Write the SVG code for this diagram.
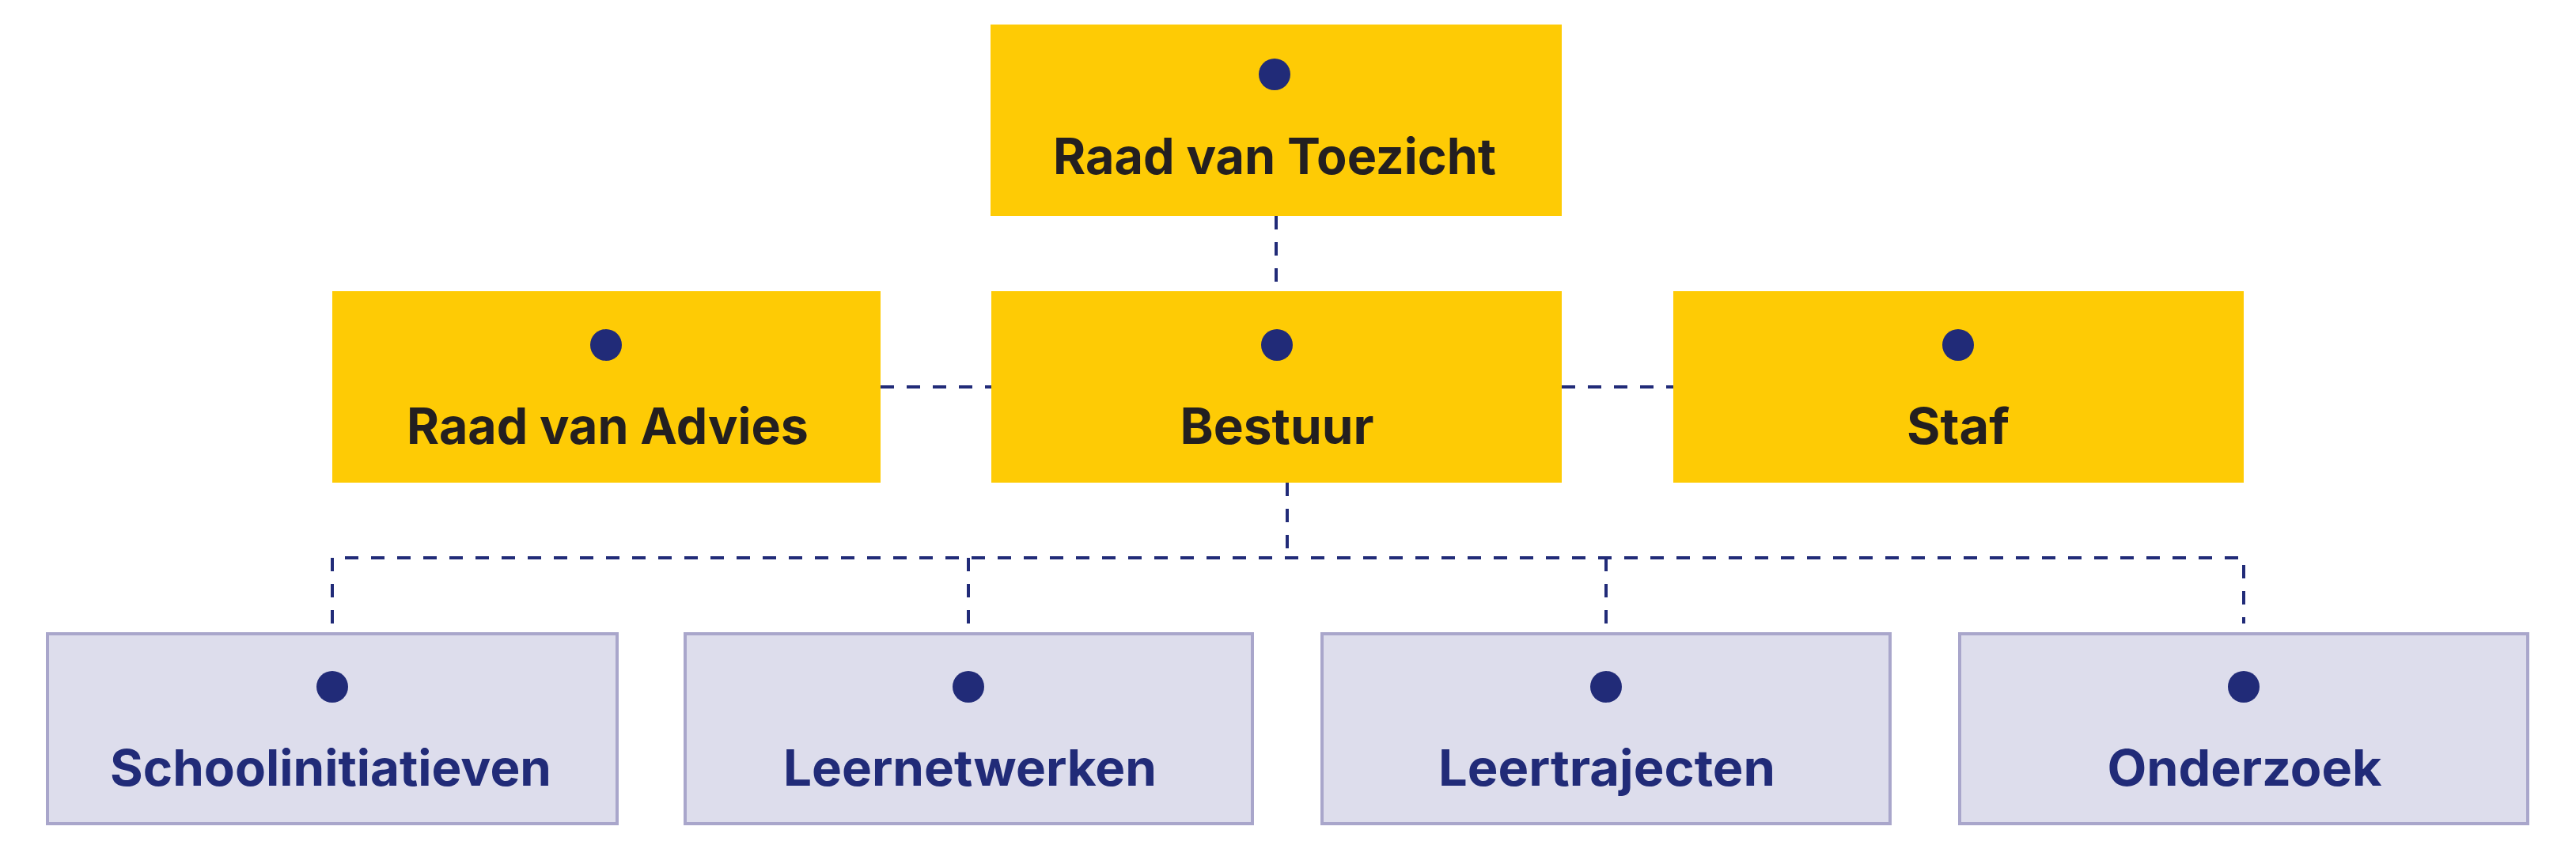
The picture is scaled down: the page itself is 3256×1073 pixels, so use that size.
<svg xmlns="http://www.w3.org/2000/svg" width="3256" height="1073" viewBox="0 0 3256 1073">
<style>
.y{fill:#FECB05}
.p{fill:#DDDDEC;stroke:#A9A6CB;stroke-width:4}
.dot{fill:#212B78}
.t{font-family:Inter,Lato,"Liberation Sans",sans-serif;font-weight:700;font-size:63px;text-anchor:middle}
.dk{fill:#231F20}
.nv{fill:#212B78}
.c{fill:none;stroke:#212B78;stroke-width:4;stroke-dasharray:17 16}
</style>
<rect width="3256" height="1073" fill="#FFFFFF"/>
<g id="connectors">
<path class="c" d="M1613,273 V368"/>
<path class="c" d="M1113,489 H1253"/>
<path class="c" d="M1974,489 H2115"/>
<path class="c" d="M1627,610 V705"/>
<path class="c" d="M420,788 V705 H2836 V788"/>
<path class="c" d="M1224,705 V788"/>
<path class="c" d="M2030,705 V788"/>
</g>
<g id="raad-van-toezicht">
<rect class="y" x="1252" y="31" width="722" height="242"/>
<circle class="dot" cx="1611" cy="94" r="20"/>
<text class="t dk" x="1611" y="220" textLength="560" lengthAdjust="spacingAndGlyphs">Raad van Toezicht</text>
</g>
<g id="raad-van-advies">
<rect class="y" x="420" y="368" width="693" height="242"/>
<circle class="dot" cx="766" cy="436" r="20"/>
<text class="t dk" x="768" y="561" textLength="508" lengthAdjust="spacingAndGlyphs">Raad van Advies</text>
</g>
<g id="bestuur">
<rect class="y" x="1253" y="368" width="721" height="242"/>
<circle class="dot" cx="1614" cy="436" r="20"/>
<text class="t dk" x="1614" y="561" textLength="245" lengthAdjust="spacingAndGlyphs">Bestuur</text>
</g>
<g id="staf">
<rect class="y" x="2115" y="368" width="721" height="242"/>
<circle class="dot" cx="2475" cy="436" r="20"/>
<text class="t dk" x="2475" y="561" textLength="130" lengthAdjust="spacingAndGlyphs">Staf</text>
</g>
<g id="schoolinitiatieven">
<rect class="p" x="60" y="801" width="720" height="240"/>
<circle class="dot" cx="420" cy="868" r="20"/>
<text class="t nv" x="418" y="993" textLength="558" lengthAdjust="spacingAndGlyphs">Schoolinitiatieven</text>
</g>
<g id="leernetwerken">
<rect class="p" x="866" y="801" width="717" height="240"/>
<circle class="dot" cx="1224" cy="868" r="20"/>
<text class="t nv" x="1226" y="993" textLength="472" lengthAdjust="spacingAndGlyphs">Leernetwerken</text>
</g>
<g id="leertrajecten">
<rect class="p" x="1671" y="801" width="718" height="240"/>
<circle class="dot" cx="2030" cy="868" r="20"/>
<text class="t nv" x="2031" y="993" textLength="426" lengthAdjust="spacingAndGlyphs">Leertrajecten</text>
</g>
<g id="onderzoek">
<rect class="p" x="2477" y="801" width="718" height="240"/>
<circle class="dot" cx="2836" cy="868" r="20"/>
<text class="t nv" x="2837" y="993" textLength="347" lengthAdjust="spacingAndGlyphs">Onderzoek</text>
</g>
</svg>
